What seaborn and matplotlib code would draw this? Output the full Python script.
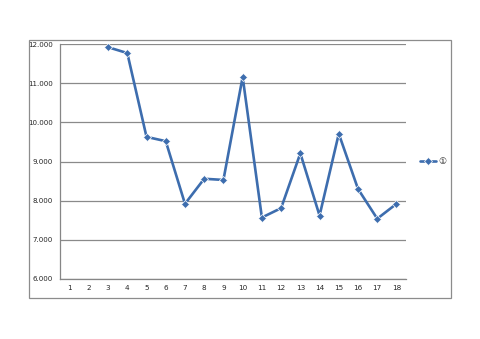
import matplotlib
matplotlib.use("Agg")
import matplotlib.pyplot as plt
import matplotlib.patches as mpatches
import seaborn as sns
import numpy as np
import pandas as pd

categories = list(range(1, 19))
values = [np.nan, np.nan, 11.92, 11.77, 9.63, 9.52, 7.92, 8.56, 8.53, 11.16,
          7.57, 7.81, 9.21, 7.62, 9.71, 8.30, 7.54, 7.92]
series_name = "①"
y_ticks = [6, 7, 8, 9, 10, 11, 12]

sns.set_style("white")
plt.rcParams['font.family'] = ['DejaVu Sans', 'Noto Sans CJK JP']

fig = plt.figure(figsize=(4.8, 3.39), dpi=100)
fig.patch.set_facecolor("white")
# outer chart border
fig.add_artist(mpatches.Rectangle((0.060, 0.121), 0.880, 0.761, transform=fig.transFigure,
                                  fill=False, edgecolor="#8c8c8c", linewidth=0.9))
ax = fig.add_axes([0.125, 0.177, 0.721, 0.693])

df = pd.DataFrame({"x": categories, "y": values, "s": series_name})
sns.lineplot(data=df, x="x", y="y", hue="s", palette=["#3D6DAE"], marker="D",
             markersize=4.2, markeredgewidth=0.5, linewidth=1.9, ax=ax)

ax.set_xlim(0.5, 18.5)
ax.set_ylim(6, 12)
ax.set_yticks(y_ticks)
ax.set_yticklabels([f"{v:.3f}" for v in y_ticks], fontsize=5.1)
ax.set_xticks(categories)
ax.set_xticklabels([str(c) for c in categories], fontsize=5.2)
ax.set_xticks(np.arange(0.5, 19, 1), minor=True)
ax.tick_params(axis="x", which="major", length=0, pad=4)
ax.tick_params(axis="x", which="minor", length=2.5, color="#868686", width=0.8)
ax.tick_params(axis="y", which="major", length=2.5, color="#868686", width=0.8, pad=2.5)
ax.set_xlabel("")
ax.set_ylabel("")
ax.grid(axis="y", color="#8a8a8a", linewidth=0.9)
ax.set_axisbelow(True)
for s in ["top", "right"]:
    ax.spines[s].set_visible(False)
for s in ["left", "bottom"]:
    ax.spines[s].set_color("#868686")
    ax.spines[s].set_linewidth(0.9)

handles, labels = ax.get_legend_handles_labels()
ax.legend(handles, labels, loc="center left", bbox_to_anchor=(1.03, 0.5), frameon=False,
          fontsize=6.5, handlelength=1.8, handletextpad=0.2, borderaxespad=0)

fig.savefig("out.png", dpi=100)
